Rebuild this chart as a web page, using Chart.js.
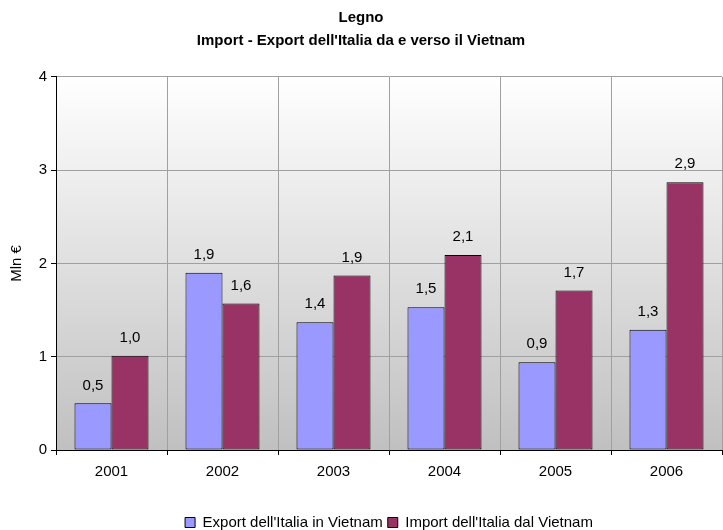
<!DOCTYPE html>
<html>
<head>
<meta charset="utf-8">
<script src="https://cdn.jsdelivr.net/npm/chart.js@4.4.1/dist/chart.umd.min.js"></script>
<style>
  html, body { margin: 0; padding: 0; background: #fff; }
  #wrap { width: 723px; height: 530px; }
</style>
</head>
<body>
<div id="wrap"><canvas id="chart" width="723" height="530"></canvas></div>
<script>
// values (Mln €)
const years = ['2001', '2002', '2003', '2004', '2005', '2006'];
const exportVals = [0.50, 1.90, 1.37, 1.53, 0.94, 1.29];
const importVals = [1.01, 1.57, 1.87, 2.09, 1.71, 2.87];
const seriesNames = ["Export dell'Italia in Vietnam", "Import dell'Italia dal Vietnam"];
const titleLines = ['Legno', "Import - Export dell'Italia da e verso il Vietnam"];

const FONT = '"Liberation Sans", Arial, sans-serif';

// gray gradient behind the plot area, legend centred under the plot
const plotBg = {
  id: 'plotBg',
  beforeDraw(chart) {
    const { ctx, chartArea: a } = chart;
    const g = ctx.createLinearGradient(0, a.top, 0, a.bottom);
    g.addColorStop(0, '#ffffff');
    g.addColorStop(1, '#c0c0c0');
    ctx.save();
    ctx.fillStyle = g;
    ctx.fillRect(a.left, a.top, a.right - a.left, a.bottom - a.top);
    ctx.restore();
    if (chart.legend) {
      chart.legend.left = a.left;
      chart.legend.right = a.right;
    }
  }
};

// value labels above each bar, italian decimal comma
const barLabels = {
  id: 'barLabels',
  afterDatasetsDraw(chart) {
    const ctx = chart.ctx;
    ctx.save();
    ctx.font = '15px ' + FONT;
    ctx.fillStyle = '#000';
    ctx.textAlign = 'center';
    ctx.textBaseline = 'middle';
    chart.data.datasets.forEach(function(ds, i) {
      chart.getDatasetMeta(i).data.forEach(function(bar, j) {
        const txt = ds.data[j].toFixed(1).replace('.', ',');
        ctx.fillText(txt, bar.x, bar.y - 18);
      });
    });
    ctx.restore();
  }
};

new Chart(document.getElementById('chart'), {
  type: 'bar',
  data: {
    labels: years,
    datasets: [{
      label: seriesNames[0],
      data: exportVals,
      backgroundColor: '#9999ff',
      borderColor: '#000',
      borderWidth: 1,
      borderSkipped: false,
      categoryPercentage: 0.667,
      barPercentage: 1
    }, {
      label: seriesNames[1],
      data: importVals,
      backgroundColor: '#993366',
      borderColor: '#000',
      borderWidth: 1,
      borderSkipped: false,
      categoryPercentage: 0.667,
      barPercentage: 1
    }]
  },
  options: {
    responsive: false,
    animation: false,
    layout: { padding: { left: 0, right: 1, top: 0, bottom: -10 } },
    plugins: {
      title: {
        display: true,
        text: titleLines,
        color: '#000',
        font: { family: FONT, size: 15, weight: 'bold', lineHeight: 1.53 },
        padding: { top: 6, bottom: 25 }
      },
      legend: {
        position: 'bottom',
        labels: {
          color: '#000',
          font: { family: FONT, size: 15 },
          boxWidth: 10,
          boxHeight: 10,
          padding: 5
        }
      },
      tooltip: { enabled: false }
    },
    scales: {
      x: {
        grid: {
          offset: true,
          color: '#a0a0a0',
          tickColor: '#000',
          tickLength: 5,
          drawTicks: true
        },
        border: { color: '#000', width: 1 },
        ticks: { color: '#000', font: { family: FONT, size: 15 }, padding: 8 },
        afterFit(scale) { scale.height = 60; }
      },
      y: {
        min: 0,
        max: 4,
        ticks: { stepSize: 1, color: '#000', font: { family: FONT, size: 15 }, padding: 4 },
        grid: { color: '#a0a0a0', tickColor: '#000', tickLength: 5 },
        border: { color: '#000', width: 1 },
        title: {
          display: true,
          text: 'Mln €',
          color: '#000',
          font: { family: FONT, size: 15 },
          padding: { top: 8, bottom: 0 }
        },
        afterFit(scale) { scale.width = 56; }
      }
    }
  },
  plugins: [plotBg, barLabels]
});
</script>
</body>
</html>
